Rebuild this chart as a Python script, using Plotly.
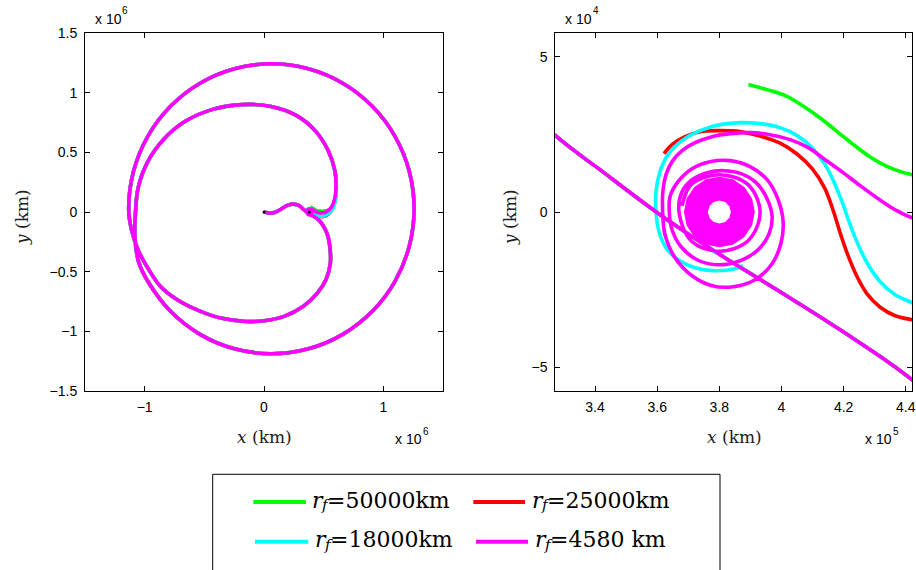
import plotly.graph_objects as go

# ---------------------------------------------------------------
# Trajectory data, all coordinates in km (Earth at origin,
# Moon at x = 380000 km, rotating frame).
# ---------------------------------------------------------------
series_digits = ["=50000km", "=25000km", "=18000km", "=4580 km"]
series_colors = ["#00ff00", "#ff0000", "#00ffff", "#ff00ff"]

# Common departure leg: Earth -> lunar flyby -> loops around Earth
departure_x = [
    0, 12000, 45000, 95000, 145000, 195000, 240000, 280000, 308000,
    327270, 341570, 360900, 380230, 399560, 418880, 442070,
    470000, 505000, 535000, 553000, 556000, 520000, 447000, 330000,
    168000, 0, -154000, -364000, -531000, -727000, -867000, -965000,
    -1050000, -1110000,
    -1134000, -1093250, -973770, -783700, -536000, -247550, 62000,
    371550, 660000, 907700, 1097770, 1217250, 1258000, 1217250,
    1097770, 907700, 660000, 371550, 62000, -247550, -536000,
    -783700, -973770,
    -1050000, -1082000, -1077000,
    -1055000, -975000, -840000, -660000, -430000, -180000, 60000,
    270000, 430000, 540000, 595000,
]
departure_y = [
    0, -3000, -9000, -2000, 25000, 55000, 66000, 60000, 44000,
    24610, 13640, -870, -13770, -25710, -37970, -54100,
    -80000, -130000, -200000, -300000, -430000, -565000, -680000, -790000,
    -875000, -912000, -917000, -889000, -833000, -735000, -624000, -484000,
    -330000, -150000,
    27000, 341470, 634500, 886140, 1079220, 1200600, 1242000,
    1200600, 1079220, 886140, 634500, 341470, 27000, -287470,
    -580500, -832140, -1025220, -1146600, -1188000, -1146600, -1025220,
    -832140, -580500,
    -420000, -200000, -8000,
    200000, 420000, 610000, 760000, 860000, 900000, 885000,
    810000, 680000, 510000, 340000,
]

# Final approach and capture for each target orbit radius
arrival_50000_x = [605000, 597000, 575000, 540000, 500000, 468000, 452000,
                   441970, 439070, 433920, 428540, 423160, 417810, 412430,
                   407060, 401710, 395270, 389340]
arrival_50000_y = [200000, 115000, 50000, 16000, 7000, 8000, 9500,
                   12030, 12780, 14710, 17740, 21710, 26000, 30320,
                   34070, 37290, 39450, 41070]

arrival_25000_x = [605000, 598000, 578000, 540000, 495000, 462000, 449000,
                   442070, 436590, 431760, 427600, 424300, 421400, 418900,
                   416600, 413900, 410000, 405000, 399550, 393110, 386670,
                   380230, 373780, 368950, 364760, 362190]
arrival_25000_y = [200000, 110000, 35000, -18000, -38000, -37500, -36000,
                   -34740, -33450, -30700, -26500, -20800, -14000, -6800,
                   600, 7700, 13800, 18700, 22200, 24500, 25900,
                   26220, 25900, 24290, 21710, 18810]

arrival_18000_x = [607000, 600000, 580000, 545000, 500000, 467000, 451000,
                   442070, 436590, 431760, 427890, 424670, 422090, 419840,
                   417260, 414040, 409850, 405020, 399550, 393110, 386670,
                   380230, 373780, 367990, 363480, 360900, 359610, 359610,
                   360580, 362830, 366700, 372170, 378620, 385060, 387640]
arrival_18000_y = [200000, 110000, 35000, -12000, -33000, -36000, -33500,
                   -29260, -26680, -22490, -17000, -10550, -4100, 2360,
                   8810, 15260, 20740, 24610, 27190, 28480, 28810,
                   28160, 26230, 23000, 18490, 13000, 6550, -230,
                   -6360, -11520, -15390, -17970, -18940, -18290, -17320]

arrival_4580_x = [603000, 592000, 565000, 525000, 485000, 458000,
                  442070, 436590, 431120, 425320, 419840, 414040, 408570,
                  402770, 396330, 389890, 383450, 377650, 372180, 367990,
                  364760, 362830, 361870,
                  361770, 362510, 365730, 371210, 377650, 384410, 391500,
                  396970, 399870, 400520, 398910, 395360, 389890, 383450,
                  377000, 371210, 366700, 364120,
                  363900, 364770, 367660, 372820, 379580, 386670, 392470,
                  396010, 396980, 395360, 391820, 386990, 381510, 376040,
                  371210, 367990,
                  367020, 370890, 379900, 389240, 393110, 389240, 379900,
                  370890, 368000]
arrival_4580_y = [200000, 110000, 40000, 3000, -7000, -5000,
                  -1840, 740, 4290, 8490, 12680, 16870, 20740,
                  23320, 24930, 25580, 25260, 24290, 22360, 19780,
                  16230, 12040, 7190,
                  -230, -7320, -14740, -20550, -23770, -24100, -21840,
                  -16680, -9910, -3130, 3970, 10420, 14610, 16550,
                  16230, 13970, 9770, 4940,
                  -320, -5710, -11190, -15390, -17000, -15710, -12160,
                  -7000, -1520, 4290, 9450, 12360, 13320, 12680,
                  10420, 6550,
                  -100, -9260, -12680, -9260, -100, 8810, 12030,
                  8810, 2000]

# Region swept by the final spiral down to the 4580 km orbit
capture_disk_x = [391400, 390532, 388061, 384363, 380000, 375637, 371939,
                  369468, 368600, 369468, 371939, 375637, 380000, 384363,
                  388061, 390532, 391400,
                  383700, 383204, 381850, 380000, 378150, 376796, 376300,
                  376796, 378150, 380000, 381850, 383204, 383700, 391400]
capture_disk_y = [0, 4363, 8061, 10532, 11400, 10532, 8061,
                  4363, 0, -4363, -8061, -10532, -11400, -10532,
                  -8061, -4363, 0,
                  0, -1850, -3204, -3700, -3204, -1850, 0,
                  1850, 3204, 3700, 3204, 1850, 0, 0]

bodies_x = [0, 380000]   # Earth, Moon
bodies_y = [0, 0]

arrivals_x = [arrival_50000_x, arrival_25000_x, arrival_18000_x, arrival_4580_x]
arrivals_y = [arrival_50000_y, arrival_25000_y, arrival_18000_y, arrival_4580_y]

# Axis ticks
left_tickvals_x = [-1e6, 0, 1e6]
left_ticktext_x = ["\u22121", "0", "1"]
left_tickvals_y = [-1.5e6, -1e6, -0.5e6, 0, 0.5e6, 1e6, 1.5e6]
left_ticktext_y = ["\u22121.5", "\u22121", "\u22120.5", "0", "0.5", "1", "1.5"]
right_tickvals_x = [340000, 360000, 380000, 400000, 420000, 440000]
right_ticktext_x = ["3.4", "3.6", "3.8", "4", "4.2", "4.4"]
right_tickvals_y = [-50000, 0, 50000]
right_ticktext_y = ["\u22125", "0", "5"]
multiplier_exponents = ["6", "4", "6", "5"]

# ---------------------------------------------------------------
W, H = 916, 570
def fx(px):
    return px / W
def fy(py):
    return 1 - py / H

LINE_W = 3.6
SANS = "Liberation Sans, Arial, sans-serif"
SERIF = "DejaVu Serif, serif"

fig = go.Figure()

for axes in (("x", "y"), ("x2", "y2")):
    for i in range(4):
        fig.add_trace(go.Scatter(
            x=departure_x + arrivals_x[i], y=departure_y + arrivals_y[i],
            mode="lines",
            line=dict(color=series_colors[i], width=LINE_W, shape="spline", smoothing=1.0),
            xaxis=axes[0], yaxis=axes[1], hoverinfo="skip", showlegend=False,
        ))
    fig.add_trace(go.Scatter(
        x=capture_disk_x, y=capture_disk_y, mode="lines", fill="toself",
        fillcolor=series_colors[3], line=dict(width=0, color=series_colors[3]),
        xaxis=axes[0], yaxis=axes[1], hoverinfo="skip", showlegend=False,
    ))

fig.add_trace(go.Scatter(
    x=bodies_x, y=bodies_y, mode="markers",
    marker=dict(color="black", size=3), xaxis="x", yaxis="y",
    hoverinfo="skip", showlegend=False,
))

axis_style = dict(
    showline=True, linecolor="black", linewidth=1, mirror="allticks",
    ticks="inside", ticklen=5, tickwidth=1, tickcolor="black",
    showgrid=False, zeroline=False, automargin=False,
    tickfont=dict(family=SANS, size=14, color="black"),
)
ydom = [fy(391), fy(33)]
fig.update_layout(
    xaxis=dict(domain=[fx(85), fx(443)], range=[-1.5e6, 1.5e6], anchor="y",
               tickvals=left_tickvals_x, ticktext=left_ticktext_x,
               ticklabelstandoff=3, **axis_style),
    yaxis=dict(domain=ydom, range=[-1.5e6, 1.5e6], anchor="x",
               tickvals=left_tickvals_y, ticktext=left_ticktext_y,
               ticklabelstandoff=4, **axis_style),
    xaxis2=dict(domain=[fx(555.3), fx(912.3)], range=[327200, 442100], anchor="y2",
                tickvals=right_tickvals_x, ticktext=right_ticktext_x,
                ticklabelstandoff=3, **axis_style),
    yaxis2=dict(domain=ydom, range=[-57700, 57700], anchor="x2",
                tickvals=right_tickvals_y, ticktext=right_ticktext_y,
                ticklabelstandoff=4, **axis_style),
)

annotations = []
def text(px, py, s, font, xanchor="center", yanchor="middle", angle=0):
    annotations.append(dict(
        x=fx(px), y=fy(py), xref="paper", yref="paper", text=s, showarrow=False,
        xanchor=xanchor, yanchor=yanchor, textangle=angle, font=font,
    ))

# Axis titles
label_font = dict(family=SERIF, size=17, color="#222222")
text(264, 437, "<i>x</i> (km)", label_font)
text(734, 437, "<i>x</i> (km)", label_font)
text(22, 217, "<i>y</i> (km)", label_font, angle=-90)
text(510, 217, "<i>y</i> (km)", label_font, angle=-90)

# Axis multipliers ("x 10^n")
mult_font = dict(family=SANS, size=14, color="black")
exp_font = dict(family=SANS, size=10, color="black")
mult_pos = [(93, 19), (563, 19), (393, 439), (863, 439)]
for (mx, my), e in zip(mult_pos, multiplier_exponents):
    text(mx, my, "x 10", mult_font, xanchor="left")
    text(mx + 27.5, my - 8, e, exp_font, xanchor="left")

# Legend
legend_line_y = [502, 502, 541.7, 541.7]
legend_text_y = [500, 500, 539.5, 539.5]
legend_line_x = [(253.3, 306), (473.3, 525), (255, 308.3), (476, 528)]
legend_text_x = [310, 530, 313, 533]
shapes = [dict(type="rect", xref="paper", yref="paper", x0=fx(212.7), x1=fx(720),
               y0=fy(575), y1=fy(474.3), line=dict(color="black", width=1))]
leg_font = dict(family=SERIF, size=22, color="black")
leg_it_font = dict(family=SERIF, size=22, color="black", style="italic")
leg_sub_font = dict(family=SERIF, size=15, color="black", style="italic")
for i in range(4):
    shapes.append(dict(type="line", xref="paper", yref="paper",
                       x0=fx(legend_line_x[i][0]), x1=fx(legend_line_x[i][1]),
                       y0=fy(legend_line_y[i]), y1=fy(legend_line_y[i]),
                       line=dict(color=series_colors[i], width=4)))
    tx, ty = legend_text_x[i], legend_text_y[i]
    text(tx, ty, "r", leg_it_font, xanchor="left")
    text(tx + 9, ty + 5, "f", leg_sub_font, xanchor="left")
    text(tx + 14.5, ty, series_digits[i], leg_font, xanchor="left")

fig.update_layout(
    width=W, height=H, autosize=False,
    margin=dict(l=0, r=0, t=0, b=0, autoexpand=False),
    paper_bgcolor="white", plot_bgcolor="white",
    showlegend=False,
    annotations=annotations, shapes=shapes,
)

fig.write_html("out.html")
